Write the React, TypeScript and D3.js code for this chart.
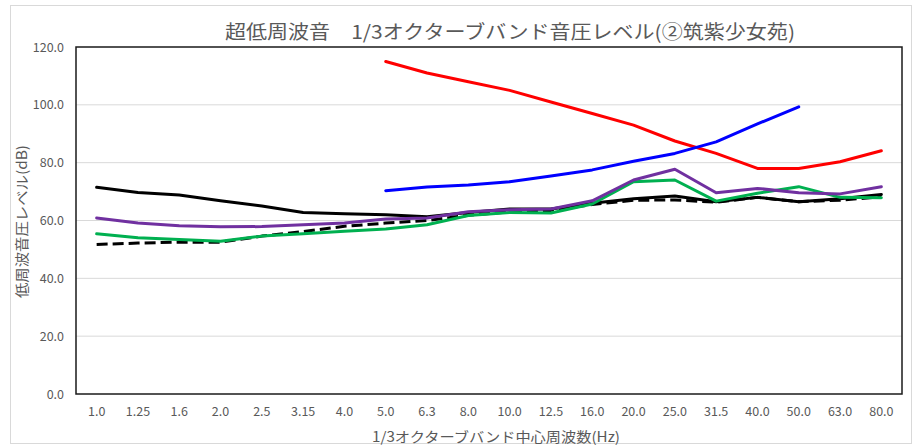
import React from "react";
import * as d3 from "d3";

const categories = ["1.0","1.25","1.6","2.0","2.5","3.15","4.0","5.0","6.3","8.0","10.0","12.5","16.0","20.0","25.0","31.5","40.0","50.0","63.0","80.0"];

type V = number | null;
const blackSolid: V[] = [71.5, 69.7, 68.8, 66.8, 65.0, 62.8, 62.3, 62.0, 61.3, 62.8, 64.0, 64.0, 66.0, 67.5, 68.5, 66.5, 68.0, 66.5, 67.5, 69.0];
const blackDashed: V[] = [51.7, 52.2, 52.5, 52.5, 54.6, 56.2, 58.0, 59.1, 60.0, 61.8, 63.0, 63.5, 65.5, 67.0, 67.1, 66.3, 68.0, 66.5, 67.0, 68.2];
const green: V[] = [55.4, 54.0, 53.4, 52.8, 54.6, 55.4, 56.3, 57.1, 58.5, 61.7, 62.8, 62.6, 65.7, 73.4, 74.0, 66.7, 69.4, 71.7, 68.0, 67.9];
const purple: V[] = [60.9, 59.1, 58.2, 57.8, 57.9, 58.5, 59.1, 60.5, 60.9, 63.0, 63.7, 64.0, 66.8, 74.0, 77.7, 69.6, 71.1, 69.6, 69.2, 71.7];
const red: V[] = [null, null, null, null, null, null, null, 115.0, 111.0, 108.0, 105.0, 101.0, 97.0, 93.0, 87.5, 83.2, 78.0, 78.0, 80.3, 84.1];
const blue: V[] = [null, null, null, null, null, null, null, 70.3, 71.6, 72.3, 73.4, 75.4, 77.5, 80.5, 83.2, 87.2, 93.4, 99.3, null, null];

const yTicks = [0, 20, 40, 60, 80, 100, 120];

const series = [
  { name: "black", values: blackSolid, color: "#000000", dash: undefined as string | undefined },
  { name: "dashed", values: blackDashed, color: "#000000", dash: "11,5" },
  { name: "green", values: green, color: "#00B050", dash: undefined },
  { name: "purple", values: purple, color: "#7030A0", dash: undefined },
  { name: "red", values: red, color: "#FF0000", dash: undefined },
  { name: "blue", values: blue, color: "#0000FF", dash: undefined },
];

export default function App() {
  const W = 914, H = 447;
  const left = 76, right = 902, top = 47, bottom = 394;
  const x = d3.scaleBand<string>().domain(categories).range([left, right]);
  const y = d3.scaleLinear().domain([0, 120]).range([bottom, top]);
  const cx = (c: string) => (x(c) as number) + x.bandwidth() / 2;
  const line = d3
    .line<V>()
    .defined((d) => d !== null)
    .x((_, i) => cx(categories[i]))
    .y((d) => y(d as number));
  const textColor = "#595959";
  const font = "'Noto Sans CJK JP', 'Noto Sans', sans-serif";

  return (
    <svg width={W} height={H} style={{ position: "absolute", left: 0, top: 0 }}>
      <rect x={0} y={0} width={W} height={H} fill="#fff" />
      <rect x={10.5} y={5.5} width={901} height={438} fill="none" stroke="#d9d9d9" strokeWidth={1} />
      <text x={510} y={39} textAnchor="middle" fontFamily={font} fontSize={19} fill={textColor} textLength={570} lengthAdjust="spacingAndGlyphs">
        超低周波音　1/3オクターブバンド音圧レベル(②筑紫少女苑)
      </text>
      {yTicks.filter((t) => t > 0 && t < 120).map((t) => (
        <line key={t} x1={left} x2={right} y1={y(t)} y2={y(t)} stroke="#d9d9d9" strokeWidth={1} />
      ))}
      {yTicks.map((t) => (
        <text key={t} x={64} y={y(t) + 4.5} textAnchor="end" fontFamily={font} fontSize={12.5} fill={textColor}>
          {t.toFixed(1)}
        </text>
      ))}
      {categories.map((c) => (
        <text key={c} x={cx(c)} y={416} textAnchor="middle" fontFamily={font} fontSize={12.5} fill={textColor}>
          {c}
        </text>
      ))}
      {series.map((s) => (
        <path
          key={s.name}
          d={line(s.values) || ""}
          fill="none"
          stroke={s.color}
          strokeWidth={3}
          strokeDasharray={s.dash}
          strokeLinejoin="round"
          strokeLinecap={s.dash ? "butt" : "round"}
        />
      ))}
      <rect x={left} y={top} width={right - left} height={bottom - top} fill="none" stroke="#1a1a1a" strokeWidth={1.5} />
      <text x={496} y={442} textAnchor="middle" fontFamily={font} fontSize={14} fill={textColor} textLength={248} lengthAdjust="spacingAndGlyphs">
        1/3オクターブバンド中心周波数(Hz)
      </text>
      <text
        transform={`translate(27, ${221.5}) rotate(-90)`}
        textAnchor="middle"
        fontFamily={font}
        fontSize={14}
        fill={textColor}
        textLength={153}
        lengthAdjust="spacingAndGlyphs"
      >
        低周波音圧レベル(dB)
      </text>
    </svg>
  );
}
